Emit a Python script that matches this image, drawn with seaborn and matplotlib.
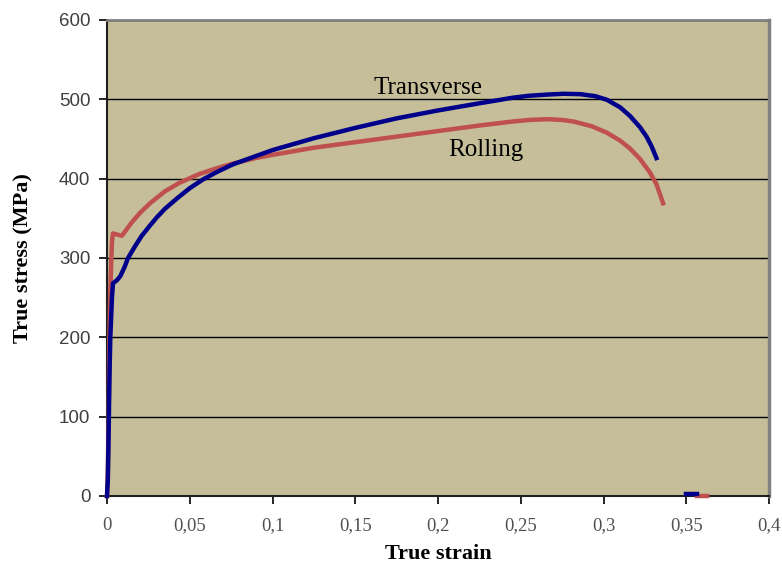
import matplotlib
matplotlib.use("Agg")
import matplotlib.pyplot as plt
from matplotlib.ticker import FuncFormatter
import seaborn as sns
import pandas as pd

# Transverse (blue)
trans_strain = [0, 0.0005, 0.001, 0.0015, 0.002, 0.003, 0.0036, 0.006, 0.008, 0.0105, 0.0127,
                0.017, 0.021, 0.026, 0.03, 0.035, 0.04, 0.044, 0.05, 0.058, 0.066, 0.076,
                0.092, 0.1, 0.125, 0.15, 0.175, 0.2, 0.225, 0.245, 0.255, 0.266, 0.276,
                0.286, 0.295, 0.302, 0.31, 0.316, 0.322, 0.326, 0.329, 0.332]
trans_stress = [0, 20, 80, 150, 200, 250, 268, 272, 277, 288, 300,
                315, 328, 341, 351, 362, 371, 378, 388, 399, 408, 418,
                430, 436, 451, 464, 476, 486, 495, 502, 504.5, 506, 507,
                506.5, 504, 499.5, 490, 479, 465, 453, 441, 426]
trans_tail_strain = [0.350, 0.3565]
trans_tail_stress = [2, 2]

# Rolling (red)
roll_strain = [0, 0.0005, 0.001, 0.0015, 0.002, 0.003, 0.0036, 0.009, 0.015, 0.02, 0.026,
               0.035, 0.044, 0.056, 0.066, 0.076, 0.09, 0.1, 0.125, 0.15, 0.175, 0.2,
               0.225, 0.245, 0.255, 0.266, 0.275, 0.282, 0.293, 0.302, 0.31, 0.316,
               0.322, 0.328, 0.332, 0.336]
roll_stress = [0, 30, 100, 200, 260, 320, 331, 328, 345, 357, 369,
               384, 395, 406, 413, 419, 426, 430, 439, 446, 453, 460,
               467, 472, 474, 475, 474, 472, 466, 458, 448, 438,
               425, 408, 393, 369]
roll_tail_strain = [0.3565, 0.3625]
roll_tail_stress = [0.5, 0.5]

x_ticks = [0, 0.05, 0.1, 0.15, 0.2, 0.25, 0.3, 0.35, 0.4]
y_ticks = [0, 100, 200, 300, 400, 500, 600]

blue = "#00008B"
red = "#C0504D"

fig = plt.figure(figsize=(7.82, 5.65), dpi=100)
ax = fig.add_axes([107 / 782, (565 - 496) / 565, (769 - 107) / 782, (496 - 20) / 565])
ax.set_facecolor("#C5BE98")

def draw(xs, ys, color):
    df = pd.DataFrame({"strain": xs, "stress": ys})
    sns.lineplot(data=df, x="strain", y="stress", ax=ax, color=color, lw=3.2,
                 sort=False, estimator=None, clip_on=False, zorder=3)
    ax.lines[-1].set_solid_joinstyle("round")

draw(roll_strain, roll_stress, red)
draw(roll_tail_strain, roll_tail_stress, red)
draw(trans_strain, trans_stress, blue)
draw(trans_tail_strain, trans_tail_stress, blue)

ax.set_xlim(0, 0.4)
ax.set_ylim(0, 600)
ax.set_xticks(x_ticks)
ax.set_yticks(y_ticks)
ax.xaxis.set_major_formatter(FuncFormatter(lambda v, p: ("%g" % round(v, 3)).replace(".", ",")))
ax.yaxis.grid(True, color="black", lw=1.0)
ax.set_axisbelow(True)

for lab in ax.get_yticklabels():
    lab.set_fontfamily("Liberation Sans")
    lab.set_fontsize(13.5)
    lab.set_color("#404040")
for lab in ax.get_xticklabels():
    lab.set_fontfamily("Liberation Serif")
    lab.set_fontsize(13.5)
    lab.set_color("#505050")

ax.tick_params(axis="both", direction="out", length=6, width=1.2, color="black")
ax.tick_params(axis="y", pad=6)
ax.tick_params(axis="x", pad=9)

ax.spines["left"].set_color("#202020")
ax.spines["left"].set_linewidth(1.5)
ax.spines["bottom"].set_color("#202020")
ax.spines["bottom"].set_linewidth(1.5)
ax.spines["top"].set_color("#808080")
ax.spines["top"].set_linewidth(2)
ax.spines["right"].set_color("#808080")
ax.spines["right"].set_linewidth(2.5)

ax.set_xlabel("True strain", fontfamily="Liberation Serif", fontweight="bold", fontsize=16, labelpad=7)
ax.set_ylabel("True stress (MPa)", fontfamily="Liberation Serif", fontweight="bold", fontsize=16, labelpad=18)

ax.text(0.161, 514, "Transverse", fontfamily="Liberation Serif", fontsize=18, va="center", ha="left")
ax.text(0.206, 436, "Rolling", fontfamily="Liberation Serif", fontsize=18, va="center", ha="left")

fig.savefig("out.png", dpi=100)
